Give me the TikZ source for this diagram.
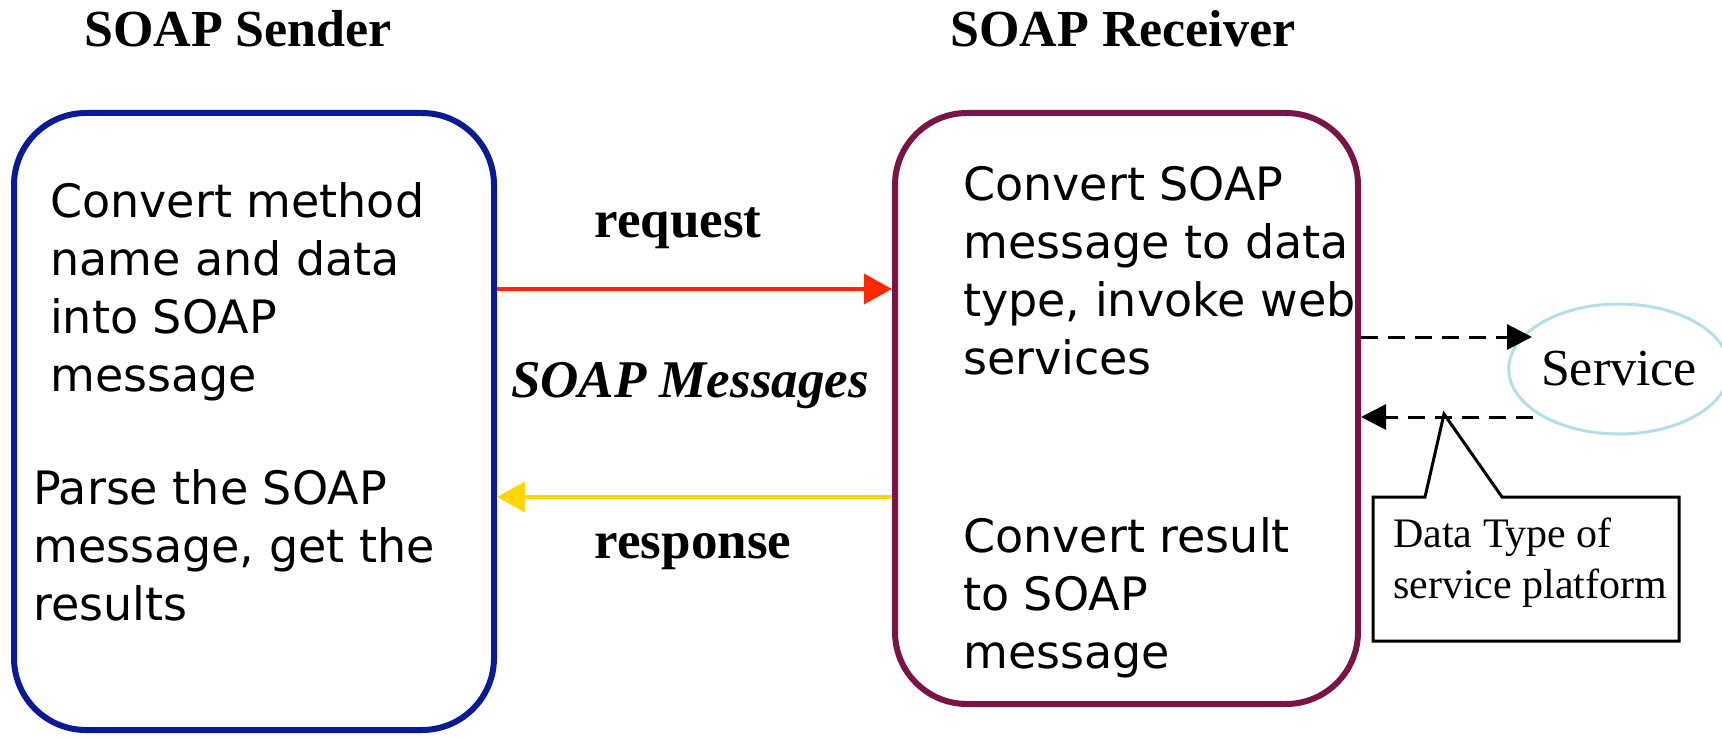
\documentclass[tikz,border=0pt]{standalone}
\usepackage{fontspec}
\setmainfont{Liberation Serif}
\newfontfamily\boxfont{DejaVu Sans}
\usetikzlibrary{arrows.meta,shapes.geometric}
\definecolor{senderblue}{RGB}{8,26,150}
\definecolor{receiverpurple}{RGB}{122,20,70}
\definecolor{requestred}{RGB}{255,40,0}
\definecolor{responseyellow}{RGB}{255,214,0}
\definecolor{servicecyan}{RGB}{178,224,230}
\begin{document}
\begin{tikzpicture}[x=1pt,y=-1pt,
  title/.style={font=\fontsize{52}{60}\selectfont\bfseries, anchor=base, inner sep=0},
  panel/.style={draw=#1, line width=6pt, rounded corners=72pt, inner sep=0},
  % multi-line blocks are placed by the baseline of their last line
  boxtext/.style={font=\boxfont\fontsize{46}{57.7}\selectfont, align=left, anchor=base west, inner sep=0},
  arrowlabel/.style={font=\fontsize{53}{60}\selectfont\bfseries, anchor=base, inner sep=0},
  msgarrow/.style={line width=4pt, -{Triangle[length=28pt,width=30pt]}},
  callarrow/.style={line width=3pt, dash pattern=on 17pt off 10pt, -{Triangle[length=25pt,width=25pt]}},
  notetext/.style={font=\fontsize{42}{51}\selectfont, align=left, anchor=base west, inner sep=0}
]
\path[fill=white,use as bounding box] (0,0) rectangle (1722,738);

% titles
\node[title] (sendertitle) at (238,47) {SOAP Sender};
\node[title] (receivertitle) at (1123,47) {SOAP Receiver};

% the two endpoints
\node[panel=senderblue, minimum width=480pt, minimum height=617pt] (sender) at (254,421.5) {};
\node[panel=receiverpurple, minimum width=463pt, minimum height=591pt] (receiver) at (1126.5,408.5) {};

\node[boxtext] (encode) at (50,391) {Convert method\\name and data\\into SOAP\\message};
\node[boxtext] (parse) at (33,620) {Parse the SOAP\\message, get the\\results};
\node[boxtext] (decode) at (963,374) {Convert SOAP\\message to data\\type, invoke web\\services};
\node[boxtext] (encoderesult) at (963,668) {Convert result\\to SOAP\\message};

% message exchange
\node[arrowlabel] (reqlabel) at (678,238) {request};
\node[arrowlabel, font=\fontsize{53}{60}\selectfont\bfseries\itshape] (msglabel) at (690,397) {SOAP Messages};
\node[arrowlabel] (resplabel) at (693,558) {response};

\draw[msgarrow, requestred] (sender.east |- 0,289) -- (receiver.west |- 0,289);
\draw[msgarrow, responseyellow] (receiver.west |- 0,497) -- (sender.east |- 0,497);

% service call
\node[ellipse, draw=servicecyan, line width=3pt, minimum width=204pt, minimum height=130pt, inner sep=0,
      font=\fontsize{52}{60}\selectfont] (service) at (1619,369) {Service};
\coordinate (callend) at (1532,337);
\draw[callarrow] (receiver.east |- callend) -- (callend);
\coordinate (retstart) at (1533,417);
\draw[callarrow] (retstart) -- (receiver.east |- retstart);

% callout note
\draw[line width=3pt] (1373,497) -- (1425,497) -- (1444,414) -- (1502,497) -- (1679,497) -- (1679,641) -- (1373,641) -- cycle;
\node[notetext] (note) at (1393,598) {Data Type of\\service platform};
\end{tikzpicture}
\end{document}
